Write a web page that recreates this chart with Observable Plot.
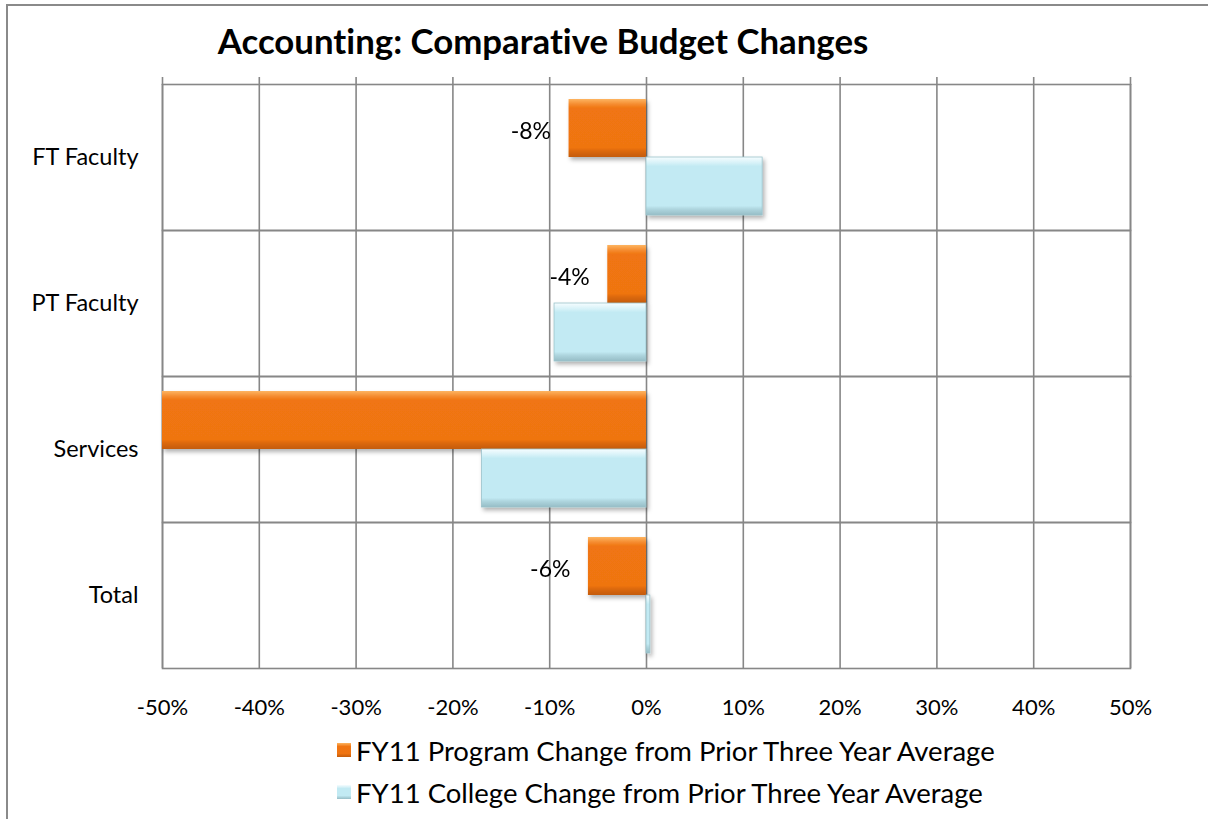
<!DOCTYPE html>
<html><head><meta charset="utf-8">
<script src="https://cdn.jsdelivr.net/npm/d3@7"></script>
<script src="https://cdn.jsdelivr.net/npm/@observablehq/plot@0.6"></script>
<style>
body{margin:0;width:1208px;height:819px;overflow:hidden;background:#fff;font-family:Lato,sans-serif;position:relative;color:#000;font-variant-ligatures:none}
svg text{font-variant-ligatures:none}
#border{position:absolute;left:6px;top:4px;width:1400px;height:1000px;border-left:2px solid #8a8a8a;border-top:2px solid #8a8a8a}
#title{position:absolute;left:0;width:1086px;top:24px;text-align:center;font-weight:bold;font-size:34.8px;line-height:34px}
#chart{position:absolute;left:0;top:66px}
#legend{position:absolute;left:337px;top:729px;font-size:27.5px}
.item{display:flex;align-items:center;height:42px;white-space:nowrap}
.sw{width:14px;height:14px;margin-right:5px;box-sizing:border-box}
</style></head>
<body>
<div id="border"></div>
<div id="title">Accounting: Comparative Budget Changes</div>
<div id="chart"></div>
<div id="legend"></div>
<script>
const categories = ["FT Faculty", "PT Faculty", "Services", "Total"];
const seriesKeys = ["program", "college"];
const seriesNames = ["FY11 Program Change from Prior Three Year Average", "FY11 College Change from Prior Three Year Average"];
const programValues = [-8, -4, -55, -6];
const collegeValues = [12, -9.5, -17, 0.4];
const xTicks = [-50, -40, -30, -20, -10, 0, 10, 20, 30, 40, 50];

const programRows = categories.map((c, i) => ({category: c, series: "program", value: programValues[i]}));
const collegeRows = categories.map((c, i) => ({category: c, series: "college", value: collegeValues[i]}));

const grid = "#878787";
const plot = Plot.plot({
  width: 1208, height: 658,
  marginLeft: 162, marginRight: 78, marginTop: 16, marginBottom: 55,
  style: {fontFamily: "Lato, sans-serif", fontSize: "22px", color: "#000", background: "transparent"},
  x: {domain: [-50, 50]},
  y: {domain: seriesKeys, paddingInner: 0, paddingOuter: 0.25, axis: null},
  fy: {domain: categories, padding: 0},
  marks: [
    Plot.gridX(xTicks, {stroke: grid, strokeOpacity: 1, strokeWidth: 1.6}),
    Plot.frame({stroke: grid, strokeWidth: 1.6}),
    Plot.axisX(xTicks, {anchor: "top", tickSize: 8, tickFormat: () => "", stroke: grid, strokeWidth: 1.6, label: null}),
    Plot.axisX(xTicks, {anchor: "bottom", tickSize: 0, tickPadding: 31, tickFormat: d => d + "%", fontSize: 22, fill: "#000", label: null}),
    Plot.axisFy({anchor: "left", tickSize: 0, tickPadding: 24, fontSize: 23.5, fill: "#000", label: null}),
    Plot.barX(programRows, {x: "value", y: "series", fy: "category", fill: "url(#gOrange)", clip: true}),
    Plot.barX(collegeRows, {x: "value", y: "series", fy: "category", fill: "url(#gBlue)", stroke: "#9cc3cb", strokeWidth: 0.8, clip: true}),
    Plot.text(programRows, {x: "value", y: "series", fy: "category", text: d => d.value + "%", textAnchor: "end", dx: -18, dy: 3, fontSize: 23, fill: "#000", clip: true})
  ]
});

const svg = d3.select(plot);
const defs = svg.insert("defs", ":first-child");
function grad(id, stops) {
  const g = defs.append("linearGradient").attr("id", id).attr("x1", 0).attr("y1", 0).attr("x2", 0).attr("y2", 1);
  stops.forEach(([o, c]) => g.append("stop").attr("offset", o).attr("stop-color", c));
}
grad("gOrange", [[0, "#FDB460"], [0.1, "#F4882A"], [0.16, "#F07512"], [0.84, "#EF7411"], [0.9, "#DB680E"], [1, "#C45C0B"]]);
grad("gBlue", [[0, "#F6FDFF"], [0.1, "#D7F2F8"], [0.16, "#C2EAF3"], [0.84, "#C2EAF3"], [0.9, "#AED5DE"], [1, "#96BDC6"]]);
const f = defs.append("filter").attr("id", "shadow").attr("x", "-10%").attr("y", "-20%").attr("width", "130%").attr("height", "150%");
f.append("feDropShadow").attr("dx", 2).attr("dy", 3).attr("stdDeviation", 2).attr("flood-color", "#000").attr("flood-opacity", 0.3);
svg.selectAll('g[aria-label="bar"]').attr("filter", "url(#shadow)");

document.getElementById("chart").appendChild(plot);

const legend = d3.select("#legend");
const swatches = ["linear-gradient(#FDB460,#F07512 25%,#EF7411 75%,#C45C0B)", "linear-gradient(#F6FDFF,#C2EAF3 25%,#C2EAF3 75%,#96BDC6)"];
seriesNames.forEach((name, i) => {
  const it = legend.append("div").attr("class", "item");
  it.append("div").attr("class", "sw").style("background", swatches[i]);
  it.append("span").text(name);
});
</script>
</body></html>
